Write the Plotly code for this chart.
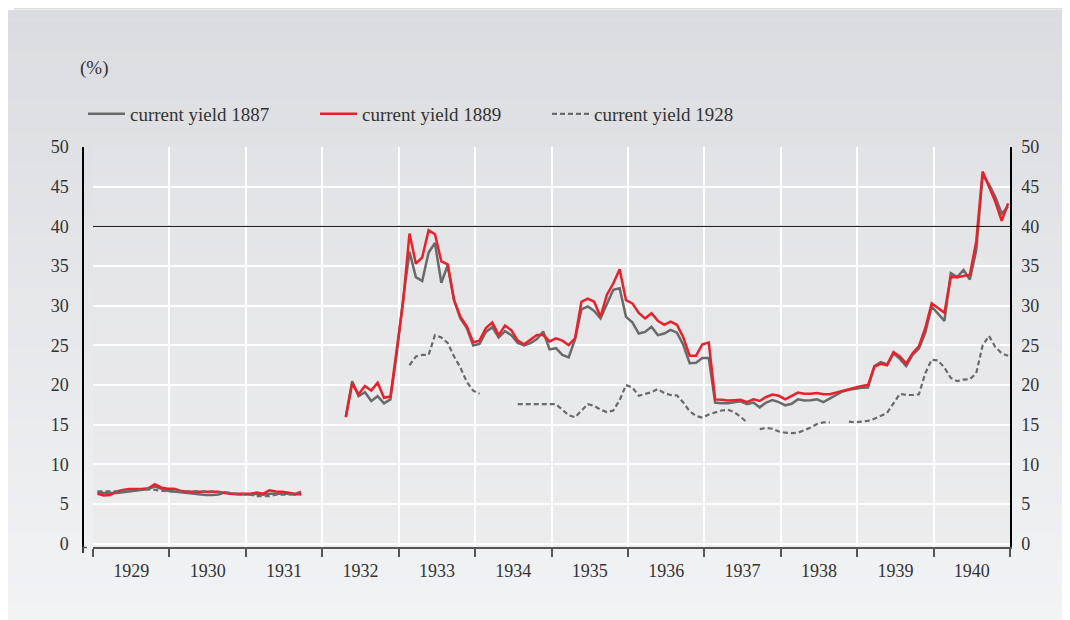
import plotly.graph_objects as go

# ---------------- data (monthly, Jan 1929 - Dec 1940) ----------------
years = list(range(1929, 1941))
months = list(range(1, 13))
series_names = ["current yield 1887", "current yield 1889", "current yield 1928"]
year_labels = [str(y) for y in years]
y_ticks = [0, 5, 10, 15, 20, 25, 30, 35, 40, 45, 50]
reference_level = 40
N = None

yield_1887 = [
    6.5, 6.4, 6.4, 6.4, 6.5, 6.6, 6.7, 6.8, 6.9, 7.2, 6.9, 6.7,          # 1929
    6.6, 6.5, 6.4, 6.3, 6.2, 6.15, 6.15, 6.2, 6.5, 6.3, 6.2, 6.2,        # 1930
    6.2, 6.3, 6.2, 6.3, 6.3, 6.3, 6.3, 6.2, 6.4, N, N, N,                # 1931
    N, N, N, 16.0, 20.5, 18.6, 19.1, 18.0, 18.6, 17.7, 18.2, 24.0,       # 1932
    30.8, 36.8, 33.6, 33.1, 36.7, 37.9, 32.9, 35.1, 30.7, 28.4, 27.2, 25.0,  # 1933
    25.2, 26.7, 27.3, 26.0, 26.8, 26.3, 25.3, 25.0, 25.3, 25.8, 26.75, 24.5,  # 1934
    24.65, 23.8, 23.5, 25.8, 29.55, 29.9, 29.35, 28.4, 30.3, 32.0, 32.2, 28.6,  # 1935
    27.9, 26.5, 26.7, 27.35, 26.3, 26.5, 26.95, 26.6, 25.05, 22.75, 22.8, 23.4,  # 1936
    23.4, 17.8, 17.7, 17.7, 17.85, 17.95, 17.6, 17.8, 17.2, 17.8, 18.1, 17.85,  # 1937
    17.45, 17.65, 18.2, 18.05, 18.1, 18.2, 17.85, 18.3, 18.85, 19.2, 19.4, 19.55,  # 1938
    19.65, 19.7, 22.4, 22.9, 22.6, 24.0, 23.3, 22.4, 23.8, 24.6, 26.6, 29.9,  # 1939
    29.0, 28.1, 34.1, 33.6, 34.5, 33.3, 37.0, 46.5, 45.3, 43.7, 41.6, 42.5,  # 1940
]

yield_1889 = [
    6.3, 6.1, 6.15, 6.6, 6.8, 6.9, 6.9, 6.9, 7.0, 7.5, 7.1, 6.95,        # 1929
    6.95, 6.7, 6.55, 6.55, 6.55, 6.55, 6.55, 6.55, 6.4, 6.3, 6.3, 6.3,  # 1930
    6.3, 6.45, 6.3, 6.75, 6.6, 6.55, 6.45, 6.3, 6.2, N, N, N,            # 1931
    N, N, N, 15.96, 20.2, 18.85, 19.9, 19.3, 20.3, 18.4, 18.55, 24.5,    # 1932
    30.5, 39.1, 35.3, 36.1, 39.5, 39.0, 35.6, 35.2, 30.7, 28.6, 27.4, 25.4,  # 1933
    25.6, 27.2, 27.9, 26.3, 27.5, 26.9, 25.6, 25.15, 25.7, 26.3, 26.3, 25.5,  # 1934
    25.9, 25.6, 25.05, 25.9, 30.5, 30.9, 30.5, 28.6, 31.4, 32.8, 34.6, 30.7,  # 1935
    30.3, 29.1, 28.4, 29.05, 28.1, 27.6, 28.0, 27.6, 26.0, 23.7, 23.7, 25.15,  # 1936
    25.35, 18.2, 18.15, 18.05, 18.1, 18.15, 17.85, 18.2, 18.0, 18.5, 18.8, 18.65,  # 1937
    18.2, 18.65, 19.05, 18.9, 18.9, 19.0, 18.85, 18.85, 19.05, 19.3, 19.5, 19.7,  # 1938
    19.9, 20.0, 22.3, 22.7, 22.5, 24.15, 23.6, 22.7, 24.0, 24.9, 27.2, 30.3,  # 1939
    29.7, 29.1, 33.6, 33.6, 33.75, 33.9, 38.1, 46.9, 45.0, 43.1, 40.7, 42.9,  # 1940
]

yield_1928 = [
    6.6, 6.6, 6.6, 6.6, 6.7, 6.7, 6.8, 6.8, 6.9, 6.8, 6.7, 6.6,          # 1929
    6.6, 6.6, 6.6, 6.6, 6.6, 6.6, 6.6, 6.5, 6.5, 6.4, 6.3, 6.3,          # 1930
    6.2, 6.0, 6.0, 6.0, 6.2, 6.2, 6.2, 6.3, 6.6, N, N, N,                # 1931
    N, N, N, N, N, N, N, N, N, N, N, N,                                  # 1932
    N, 22.5, 23.6, 23.8, 23.8, 26.3, 26.0, 25.3, 23.6, 22.2, 20.4, 19.3,  # 1933
    18.9, N, N, N, N, N, 17.6, 17.6, 17.6, 17.6, 17.6, 17.6,             # 1934
    17.6, 16.9, 16.2, 15.95, 16.8, 17.6, 17.4, 16.9, 16.6, 16.8, 18.1, 20.0,  # 1935
    19.7, 18.65, 18.9, 19.1, 19.5, 19.0, 18.75, 18.7, 17.8, 16.7, 16.1, 15.9,  # 1936
    16.3, 16.6, 16.8, 16.9, 16.6, 16.0, 15.3, N, 14.45, 14.6, 14.5, 14.15,  # 1937
    14.0, 13.95, 14.0, 14.3, 14.65, 15.1, 15.3, 15.3, N, N, 15.4, 15.3,  # 1938
    15.4, 15.5, 15.75, 16.1, 16.5, 17.7, 18.9, 18.75, 18.75, 18.85, 21.5, 23.2,  # 1939
    23.1, 22.2, 20.9, 20.5, 20.7, 20.75, 21.5, 25.0, 26.2, 24.8, 24.0, 23.7,  # 1940
]

# observation position inside each month (fraction of a year)
x_month = [yr + (m - 0.3) / 12 for yr in years for m in months]

# ---------------- geometry helpers ----------------
# page offset of the plot div (default body margin) is compensated here
OFF = 8
W, H = 1070 - OFF, 620 - OFF
ML, MR, MT, MB = 83 - OFF, 60, 147 - OFF, 73
PW, PH = W - ML - MR, H - MT - MB
PLOT_X0 = 93     # window px of the left edge of the x axis


def pxx(px):     # window px -> paper x
    return (px - OFF - ML) / PW


def pxy(py):     # window px -> paper y
    return (H - MB - (py - OFF)) / PH


def mix(c1, c2, t):
    return "rgb(%d,%d,%d)" % tuple(round(a + (b - a) * t) for a, b in zip(c1, c2))


shapes = []
for i, col in enumerate(["#dddddd", "#e9e9e9", "#f3f3f3", "#fafafa"]):
    shapes.append(dict(type="rect", xref="paper", yref="paper", layer="below",
                       x0=pxx(14), x1=pxx(1080), y0=pxy(OFF + i * 1.5 + 1.5), y1=pxy(OFF + i * 1.5),
                       fillcolor=col, line=dict(width=0)))


def gradient(x0, x1, top, bot, ctop, cbot, n):
    step = (bot - top) / n
    for k in range(n):
        shapes.append(dict(type="rect", xref="paper", yref="paper", layer="below",
                           x0=pxx(x0), x1=pxx(x1),
                           y0=pxy(top + (k + 1) * step + 0.5), y1=pxy(top + k * step),
                           fillcolor=mix(ctop, cbot, k / (n - 1)), line=dict(width=0)))


gradient(0, 1080, 10, 625, (219, 220, 223), (242, 243, 245), 60)
gradient(PLOT_X0, 1010, 147, 547, (226, 227, 230), (236, 236, 237), 40)

# horizontal reference line at 40 %
shapes.append(dict(type="line", xref="paper", yref="y", x0=pxx(PLOT_X0), x1=1,
                   y0=reference_level, y1=reference_level,
                   line=dict(color="black", width=1)))
# short stub of the left axis below the baseline
shapes.append(dict(type="line", xref="paper", yref="paper", x0=0, x1=0,
                   y0=pxy(546), y1=pxy(553), line=dict(color="black", width=1.5)))
shapes.append(dict(type="line", xref="paper", yref="paper", x0=0, x1=pxx(87),
                   y0=pxy(547.5), y1=pxy(547.5), line=dict(color="#555555", width=1.5)))

# ---------------- figure ----------------
fig = go.Figure()
styles = [
    dict(color="#6a6a6a", width=2.5),
    dict(color="#e8212b", width=2.5),
    dict(color="#6a6a6a", width=2.2, dash="5px,3px"),
]
for name, vals, st in zip(series_names, [yield_1887, yield_1889, yield_1928], styles):
    fig.add_trace(go.Scatter(x=x_month, y=vals, name=name, mode="lines",
                             line=st, connectgaps=False, hoverinfo="skip"))

# empty trace on the right axis so it is drawn
fig.add_trace(go.Scatter(x=[None], y=[None], yaxis="y2", showlegend=False, hoverinfo="skip"))

FONT = "Liberation Serif, Times New Roman, serif"
tickfont = dict(family=FONT, size=18, color="#333333")

fig.update_layout(
    width=W, height=H,
    margin=dict(l=ML, r=MR, t=MT, b=MB, pad=0),
    paper_bgcolor="white",
    plot_bgcolor="rgba(0,0,0,0)",
    shapes=shapes,
    showlegend=True,
    legend=dict(orientation="h", x=pxx(83), y=pxy(95), xanchor="left", yanchor="top",
                bgcolor="rgba(0,0,0,0)", font=dict(family=FONT, size=19, color="#333333"),
                entrywidth=180, itemwidth=37, traceorder="normal"),
    xaxis=dict(domain=[pxx(PLOT_X0), 1], range=[1929, 1941],
               tickvals=[y + 0.5 for y in years], ticktext=year_labels,
               ticks="", showgrid=False, zeroline=False,
               showline=True, linecolor="#555555", linewidth=2,
               tickfont=tickfont, ticklabelstandoff=6,
               minor=dict(tickvals=years + [1941], ticks="outside", ticklen=8,
                          tickcolor="#555555", tickwidth=1.5,
                          showgrid=True, gridcolor="white", gridwidth=1.5)),
    yaxis=dict(range=[-0.4, 50], tickvals=y_ticks, anchor="free", position=0,
               showgrid=True, gridcolor="white", gridwidth=1.5, zeroline=False,
               showline=True, linecolor="black", linewidth=1.5,
               ticks="", tickfont=tickfont, ticklabelstandoff=10),
    yaxis2=dict(range=[-0.4, 50], tickvals=y_ticks, overlaying="y", side="right",
                anchor="x", showgrid=False, zeroline=False,
                showline=True, linecolor="black", linewidth=1.5,
                ticks="", tickfont=tickfont, ticklabelstandoff=6),
    annotations=[dict(text="(%)", xref="paper", yref="paper", x=pxx(78), y=pxy(68),
                      xanchor="left", yanchor="middle", showarrow=False,
                      font=dict(family=FONT, size=19, color="#333333"))],
)

fig.write_html("out.html")
